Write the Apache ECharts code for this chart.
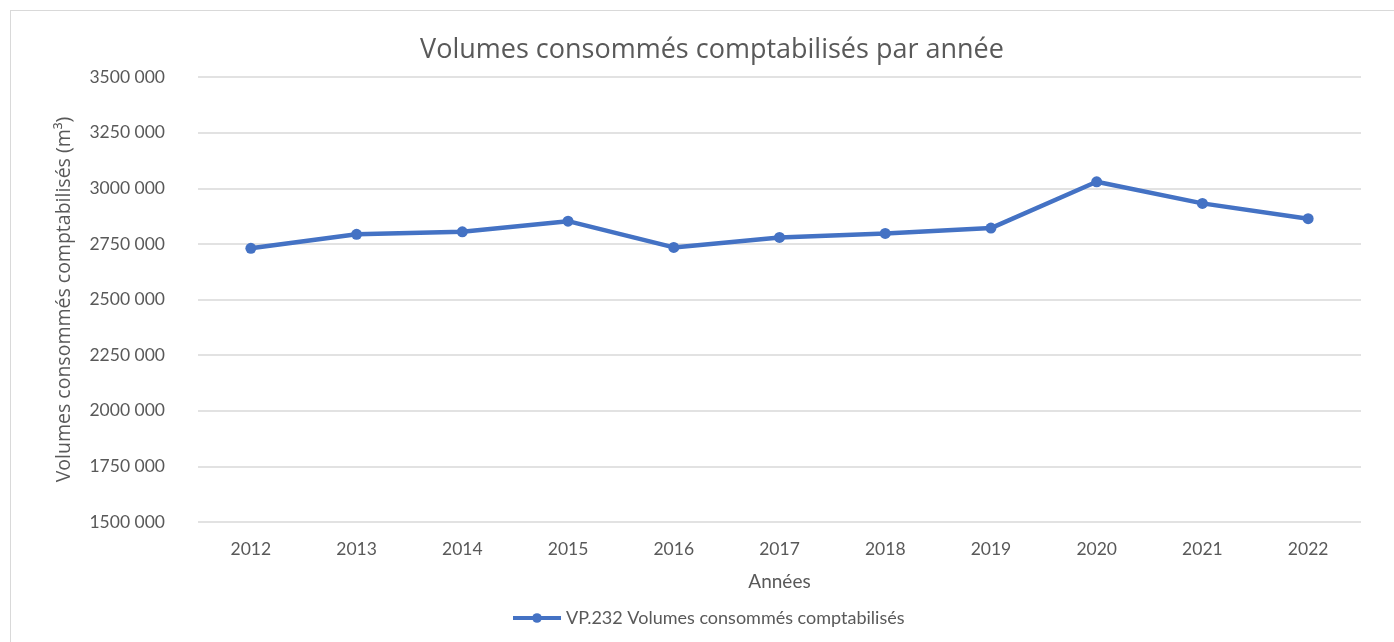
<!DOCTYPE html>
<html>
<head>
<meta charset="utf-8">
<script src="https://cdn.jsdelivr.net/npm/echarts@6/dist/echarts.min.js"></script>
<style>
  html, body { margin: 0; padding: 0; background: #fff; }
  .frame {
    position: absolute;
    left: 10px;
    top: 10px;
    width: 1400px;
    height: 650px;
    border: 1px solid #d9d9d9;
  }
  #chartLine {
    position: absolute;
    left: 0;
    top: 0;
    width: 1394px;
    height: 642px;
  }
</style>
</head>
<body>
<div class="frame"></div>
<div id="chartLine"></div>
<script>
// données
var annees = ["2012", "2013", "2014", "2015", "2016", "2017", "2018", "2019", "2020", "2021", "2022"];
var volumes = [2730000, 2793000, 2804000, 2852000, 2734000, 2779000, 2797000, 2821000, 3029000, 2932000, 2863000];
var yMin = 1500000;
var yMax = 3500000;
var yStep = 250000;

var chartLine = echarts.init(document.getElementById("chartLine"));

var option = {
  animation: false,
  title: {
    text: "Volumes consommés comptabilisés par année",
    left: 707,
    top: 32,
    textAlign: "center",
    textStyle: {
      color: "#595959",
      fontSize: 27,
      fontWeight: "normal",
      fontFamily: "Open Sans",
    },
  },
  legend: {
    data: ["VP.232 Volumes consommés comptabilisés"],
    left: 506,
    top: 604,
    itemWidth: 48,
    itemHeight: 12,
    itemGap: 4,
    lineStyle: { width: 4 },
    textStyle: {
      color: "#595959",
      fontSize: 18,
      fontFamily: "Lato",
    },
  },
  grid: {
    left: 198,
    right: 33,
    top: 77,
    bottom: 120,
  },
  xAxis: {
    type: "category",
    data: annees,
    boundaryGap: true,
    axisLine: { show: false },
    axisTick: { show: false },
    axisLabel: {
      color: "#595959",
      fontSize: 17.5,
      fontFamily: "Lato",
      margin: 18,
    },
    name: "Années",
    nameLocation: "middle",
    nameGap: 50,
    nameTextStyle: {
      color: "#595959",
      fontSize: 19,
      fontFamily: "Lato",
    },
  },
  yAxis: {
    type: "value",
    min: yMin,
    max: yMax,
    interval: yStep,
    axisLine: { show: false },
    axisTick: { show: false },
    splitLine: {
      lineStyle: { color: "#d9d9d9", width: 1.5 },
    },
    axisLabel: {
      color: "#595959",
      fontSize: 17.5,
      fontFamily: "Lato",
      margin: 33,
      formatter: function (v) {
        return Math.floor(v / 1000) + " 000";
      },
    },
    name: "Volumes consommés comptabilisés (m³)",
    nameLocation: "middle",
    nameGap: 124,
    nameTextStyle: {
      color: "#595959",
      fontSize: 19.5,
      fontFamily: "Open Sans",
    },
  },
  series: [
    {
      name: "VP.232 Volumes consommés comptabilisés",
      type: "line",
      data: volumes,
      symbol: "circle",
      symbolSize: 11,
      lineStyle: { color: "#4472c4", width: 4.5 },
      itemStyle: { color: "#4472c4" },
    },
  ],
};

chartLine.setOption(option);
</script>
</body>
</html>
